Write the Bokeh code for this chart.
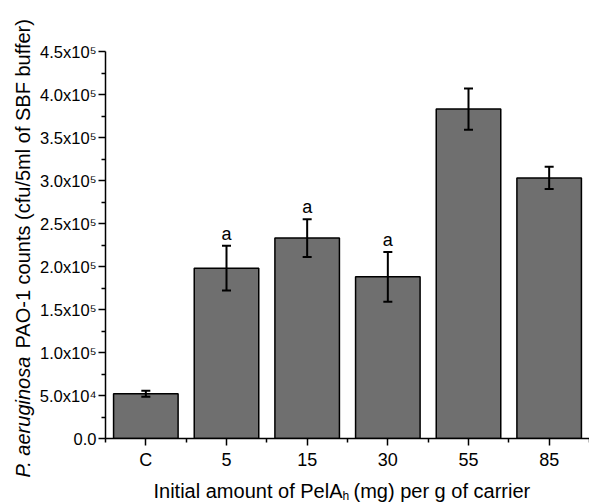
import math

from bokeh.core.properties import value
from bokeh.embed import file_html
from bokeh.layouts import column, row
from bokeh.models import (ColumnDataSource, FixedTicker, Range1d, TeeHead,
                          Whisker)
from bokeh.plotting import figure
from bokeh.resources import INLINE

# PAO-1 counts per carrier loading
categories = ["C", "5", "15", "30", "55", "85"]
counts = [52000, 198000, 233000, 188000, 383000, 303000]
errors = [3500, 26000, 22000, 29000, 24000, 13000]
marks = ["", "a", "a", "a", "", ""]

y_ticks = [0, 50000, 100000, 150000, 200000, 250000, 300000, 350000, 400000, 450000]
y_tick_labels = ["0.0", "5.0x10\u2074", "1.0x10\u2075", "1.5x10\u2075", "2.0x10\u2075",
                 "2.5x10\u2075", "3.0x10\u2075", "3.5x10\u2075", "4.0x10\u2075", "4.5x10\u2075"]

FONT = "Liberation Sans"
BAR_FILL = "#6f6f6f"
TITLE_W = 36      # strip holding the y-axis title
TITLE_H = 30      # strip holding the x-axis title
TOTAL_W, TOTAL_H = 589, 502


def blank(width, height, x0, x1, y0, y1):
    """Axis-free figure used as a canvas for the axis titles."""
    f = figure(width=width, height=height, output_backend="svg", toolbar_location=None,
               x_range=Range1d(x0, x1), y_range=Range1d(y0, y1),
               x_axis_location=None, y_axis_location=None,
               min_border=0, min_border_left=0, min_border_right=0,
               min_border_top=0, min_border_bottom=0, frame_align=False)
    f.grid.visible = False
    f.outline_line_color = None
    return f


xs = list(range(len(categories)))
src = ColumnDataSource(dict(
    x=xs,
    top=counts,
    upper=[c + e for c, e in zip(counts, errors)],
    lower=[c - e for c, e in zip(counts, errors)],
    mark=marks,
))

main_w = TOTAL_W - TITLE_W
main_h = TOTAL_H - TITLE_H
p = figure(width=main_w, height=main_h, output_backend="svg", toolbar_location=None,
           x_range=Range1d(-0.5, 5.5), y_range=Range1d(0, 450000),
           min_border_left=104 - TITLE_W, min_border_right=0, min_border_top=51,
           min_border_bottom=main_h - 440, frame_align=False)
p.outline_line_color = None
p.xgrid.visible = False
p.ygrid.visible = False

p.vbar(x="x", top="top", width=0.8, bottom=0, source=src,
       fill_color=BAR_FILL, line_color="black", line_width=1.5)

cap = dict(size=9, line_width=2, line_color="black")
p.add_layout(Whisker(source=src, base="x", upper="upper", lower="lower",
                     line_width=2, line_color="black", level="overlay",
                     upper_head=TeeHead(**cap), lower_head=TeeHead(**cap)))

p.text(x="x", y="upper", text="mark", source=src, text_align="center",
       text_baseline="bottom", y_offset=-2, text_font=value(FONT),
       text_font_size="18px", text_color="black")

# x axis: categories with minor ticks between bars
xa = p.xaxis[0]
xa.ticker = FixedTicker(ticks=xs, minor_ticks=[i - 0.5 for i in range(len(categories) + 1)])
xa.major_label_overrides = {i: c for i, c in enumerate(categories)}
xa.major_label_text_font = FONT
xa.major_label_text_font_size = "18px"
xa.major_label_text_color = "black"
xa.major_label_standoff = 4

# y axis with scientific-notation labels
ya = p.yaxis[0]
ya.ticker = FixedTicker(ticks=y_ticks, minor_ticks=[25000 + 50000 * i for i in range(9)])
ya.major_label_overrides = {t: s for t, s in zip(y_ticks, y_tick_labels)}
ya.major_label_text_font = FONT
ya.major_label_text_font_size = "16.5px"
ya.major_label_text_color = "black"
ya.major_label_standoff = 2

for ax in (xa, ya):
    ax.axis_line_width = 1.5
    ax.axis_line_color = "black"
    ax.major_tick_line_width = 1.5
    ax.minor_tick_line_width = 1.5
    ax.major_tick_line_color = "black"
    ax.minor_tick_line_color = "black"
    ax.major_tick_in = 0
    ax.major_tick_out = 7
    ax.minor_tick_in = 0
    ax.minor_tick_out = 4

# y-axis title strip: italic species name followed by the rest of the label
# (coordinates are pixels from the page's left edge and bottom edge)
left = blank(TITLE_W, TOTAL_H, 0, TITLE_W, 0, TOTAL_H)
left.text(x=[33], y=[TOTAL_H - 477], text=["P. aeruginosa"], angle=math.pi / 2,
          text_align="left", text_baseline="bottom", text_font=value(FONT),
          text_font_style="italic", text_font_size="20px", text_color="black")
left.text(x=[33], y=[TOTAL_H - 348], text=["PAO-1 counts (cfu/5ml of SBF buffer)"],
          angle=math.pi / 2, text_align="left", text_baseline="bottom",
          text_font=value(FONT), text_font_size="20px", text_color="black")

# x-axis title strip with subscript h
# (x in pixels from the page's left edge, y in pixels from the strip's bottom)
bottom = blank(main_w, TITLE_H, TITLE_W, TOTAL_W, 0, TITLE_H)
bottom.text(x=[153], y=[1], text=["Initial amount of PelA"], text_align="left",
            text_baseline="bottom", text_font=value(FONT),
            text_font_size="20px", text_color="black")
bottom.text(x=[342], y=[0], text=["h"], text_align="left",
            text_baseline="bottom", text_font=value(FONT),
            text_font_size="12px", text_color="black")
bottom.text(x=[353], y=[1], text=["(mg) per g of carrier"], text_align="left",
            text_baseline="bottom", text_font=value(FONT),
            text_font_size="20px", text_color="black")

layout = row(left, column(p, bottom, spacing=0), spacing=0)

open("out.html", "w").write(file_html(layout, INLINE))
